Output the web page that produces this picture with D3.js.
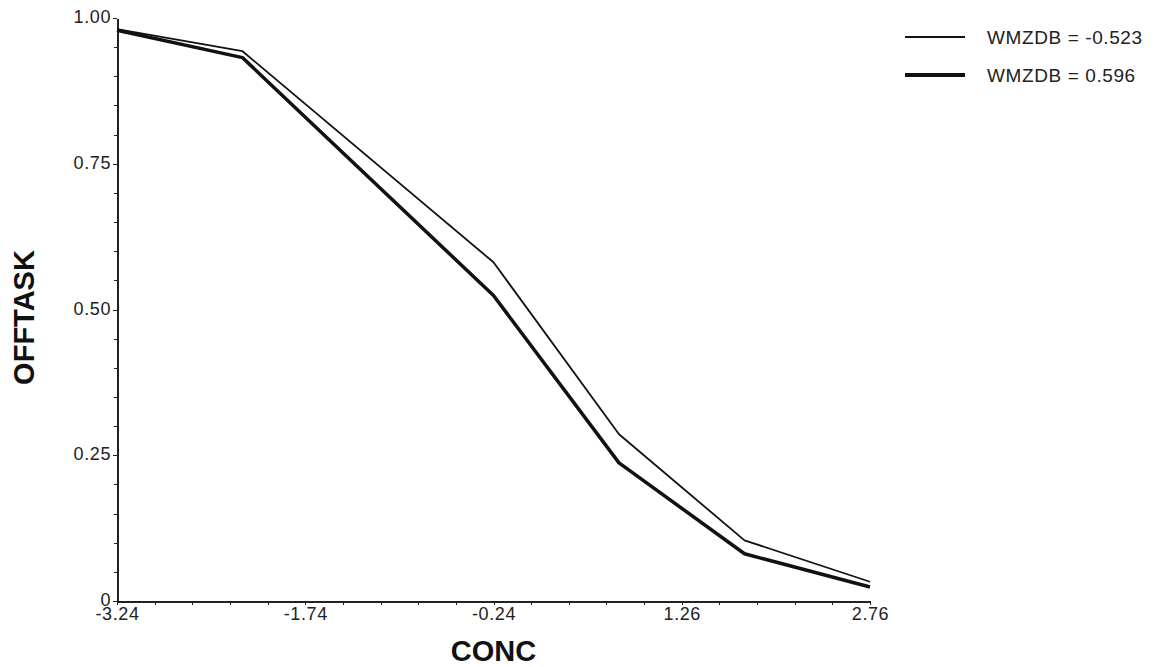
<!DOCTYPE html>
<meta charset="utf-8">
<style>
body { margin: 0; background: #fff; font-family: "Liberation Sans", Arial, sans-serif; }
.axis path, .axis line { fill: none; stroke: #222; shape-rendering: crispEdges; }
.axis text { font-size: 18px; letter-spacing: 0.6px; fill: #222; font-family: "Liberation Sans", Arial, sans-serif; }
</style>
<body>
<script src="https://d3js.org/d3.v7.min.js"></script>
<script>
// data
var conc = [-3.24, -2.24, -0.24, 0.76, 1.76, 2.76];
var lowWmzdb = [0.981, 0.943, 0.581, 0.286, 0.104, 0.033];
var highWmzdb = [0.979, 0.932, 0.524, 0.237, 0.081, 0.024];
var seriesNames = ["WMZDB = -0.523", "WMZDB = 0.596"];
var xTicks = [-3.24, -1.74, -0.24, 1.26, 2.76];
var yTicks = [0, 0.25, 0.5, 0.75, 1];
var yTickLabels = ["0", "0.25", "0.50", "0.75", "1.00"];

var W = 1160, H = 667;
var margin = {top: 18, left: 117, right: 290, bottom: 66};
var width = W - margin.left - margin.right,
    height = H - margin.top - margin.bottom;

var x = d3.scaleLinear().domain([-3.24, 2.76]).range([0, width]);
var y = d3.scaleLinear().domain([0, 1]).range([height, 0]);

var svg = d3.select("body").append("svg")
    .attr("width", W).attr("height", H);
var g = svg.append("g")
    .attr("transform", "translate(" + margin.left + "," + margin.top + ")");

// minor ticks
var xMinor = d3.range(0, 21).map(function(i) { return -3.24 + i * 0.3; });
var yMinor = d3.range(0, 21).map(function(i) { return i * 0.05; });

g.append("g").attr("class", "axis")
    .attr("transform", "translate(0," + height + ")")
    .call(d3.axisBottom(x).tickValues(xMinor).tickSize(4).tickFormat(""))
    .call(function(s) { s.select(".domain").remove(); });
g.append("g").attr("class", "axis")
    .call(d3.axisLeft(y).tickValues(yMinor).tickSize(3).tickFormat(""))
    .call(function(s) { s.select(".domain").remove(); });

// main axes
var xAxis = g.append("g").attr("class", "axis")
    .attr("transform", "translate(0," + height + ")")
    .call(d3.axisBottom(x).tickValues(xTicks).tickSize(4).tickSizeOuter(0).tickPadding(2)
      .tickFormat(function(d) { return d3.format(".2f")(d).replace("−", "-"); }));
xAxis.select(".domain").attr("stroke-width", 2);

var yAxis = g.append("g").attr("class", "axis")
    .call(d3.axisLeft(y).tickValues(yTicks).tickSize(4).tickSizeOuter(0).tickPadding(2)
      .tickFormat(function(d, i) { return yTickLabels[i]; }));
yAxis.select(".domain").attr("stroke-width", 2);
yAxis.selectAll("text").attr("dy", "0.25em");

// lines
var line = d3.line()
    .x(function(d, i) { return x(conc[i]); })
    .y(function(d) { return y(d); });

g.append("path").datum(lowWmzdb)
    .attr("fill", "none").attr("stroke", "#111").attr("stroke-width", 1.8)
    .attr("stroke-linejoin", "round")
    .attr("d", line);
g.append("path").datum(highWmzdb)
    .attr("fill", "none").attr("stroke", "#111").attr("stroke-width", 3.5)
    .attr("stroke-linejoin", "round")
    .attr("d", line);

// axis titles
svg.append("text")
    .attr("x", margin.left + x(-0.24)).attr("y", 661)
    .attr("text-anchor", "middle")
    .style("font-size", "29px").style("font-weight", "bold").style("fill", "#111")
    .text("CONC");
svg.append("text")
    .attr("transform", "translate(34," + (margin.top + y(0.5) + 8) + ") rotate(-90)")
    .attr("text-anchor", "middle")
    .style("font-size", "29px").style("font-weight", "bold").style("fill", "#111")
    .text("OFFTASK");

// legend
var legend = svg.selectAll(".legend")
    .data(seriesNames)
    .enter().append("g")
      .attr("class", "legend")
      .attr("transform", function(d, i) { return "translate(905," + (37 + i * 38) + ")"; });
legend.append("line")
    .attr("x1", 0).attr("x2", 60)
    .attr("stroke", "#111")
    .attr("stroke-width", function(d, i) { return i ? 4 : 2; });
legend.append("text")
    .attr("x", 82).attr("dy", ".35em")
    .style("font-size", "19px").style("letter-spacing", "0.6px").style("fill", "#222")
    .text(function(d) { return d; });
</script>
</body>
